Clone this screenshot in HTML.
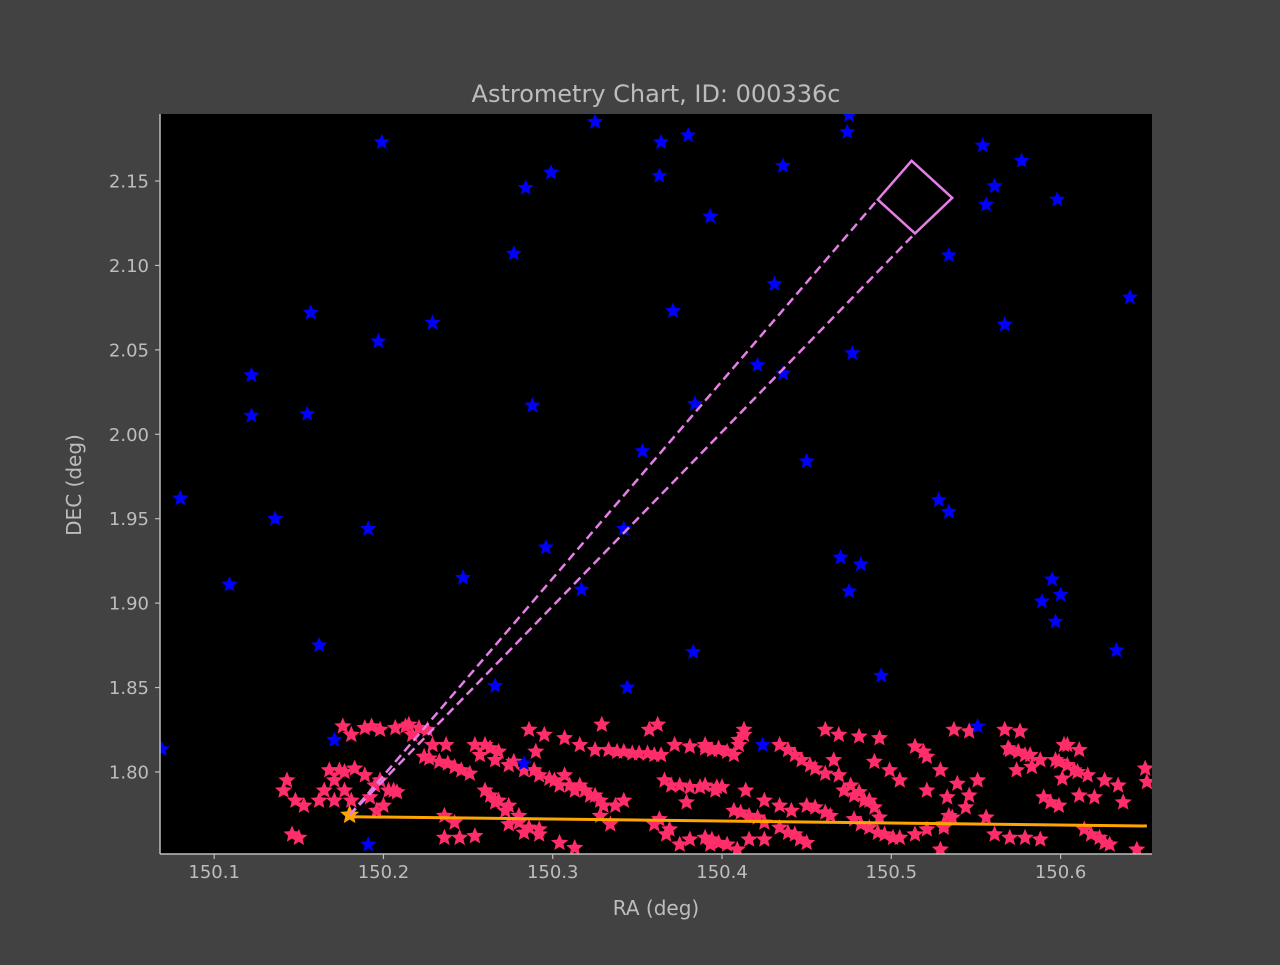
<!DOCTYPE html>
<html><head><meta charset="utf-8"><style>
body{margin:0;background:#424242;}
svg text{font-family:"DejaVu Sans","Liberation Sans",sans-serif;fill:#bdbdbd;}
</style></head><body>
<svg id="chart" width="1280" height="960" xmlns="http://www.w3.org/2000/svg">
<rect width="1280" height="960" fill="#424242"/>
<rect x="160" y="114" width="992" height="740" fill="#000"/>
<text x="656" y="102" font-size="24" text-anchor="middle">Astrometry Chart, ID: 000336c</text>
<text x="656" y="915" font-size="20" text-anchor="middle">RA (deg)</text>
<text x="81" y="485" font-size="20" text-anchor="middle" transform="rotate(-90 81 485)">DEC (deg)</text>
<g id="marks"></g>
<g id="axes"></g>
</svg>
<script>
const xTicks=[150.1,150.2,150.3,150.4,150.5,150.6];
const yTicks=[1.80,1.85,1.90,1.95,2.00,2.05,2.10,2.15];
const blueRA=[150.069,150.080,150.109,150.122,150.122,150.136,150.155,150.157,150.162,150.171,150.191,150.191,150.197,150.199,150.229,150.247,150.266,150.277,150.284,150.288,150.296,150.299,150.317,150.325,150.342,150.344,150.353,150.363,150.364,150.371,150.380,150.383,150.384,150.393,150.421,150.424,150.431,150.436,150.436,150.450,150.470,150.474,150.475,150.477,150.475,150.482,150.494,150.528,150.534,150.534,150.551,150.554,150.556,150.561,150.567,150.577,150.589,150.595,150.597,150.598,150.600,150.633,150.641,150.283];
const blueDEC=[1.8135,1.962,1.911,2.035,2.011,1.950,2.012,2.072,1.875,1.819,1.757,1.944,2.055,2.173,2.066,1.915,1.851,2.107,2.146,2.017,1.933,2.155,1.908,2.185,1.944,1.850,1.990,2.153,2.173,2.073,2.177,1.871,2.018,2.129,2.041,1.816,2.089,2.036,2.159,1.984,1.927,2.179,2.189,2.048,1.907,1.923,1.857,1.961,2.106,1.954,1.827,2.171,2.136,2.147,2.065,2.162,1.901,1.914,1.889,2.139,1.905,1.872,2.081,1.805];
const pinkRA=[.176,.181,.193,.198,.143,.141,.148,.153,.162,.165,.174,.177,.183,.189,.198,.203,.208,.171,.181,.192,.146,.150,.215,.221,.226,.217,.229,.237,.224,.233,.242,.251,.286,.295,.254,.263,.268,.257,.266,.274,.283,.292,.301,.310,.319,.263,.268,.274,.280,.236,.245,.254,.236,.274,.283,.292,.307,.316,.325,.330,.333,.342,.351,.360,.357,.362,.372,.381,.390,.398,.366,.375,.387,.396,.360,.369,.381,.393,.304,.313,.379,.329,.390,.398,.407,.413,.410,.434,.443,.452,.461,.466,.469,.472,.478,.484,.490,.461,.469,.481,.493,.490,.499,.505,.514,.521,.529,.537,.546,.567,.576,.570,.579,.588,.574,.583,.602,.611,.599,.608,.616,.601,.626,.634,.590,.599,.611,.620,.637,.650,.651,.521,.533,.539,.551,.546,.544,.536,.531,.556,.390,.397,.400,.414,.425,.434,.441,.450,.461,.407,.416,.425,.434,.443,.450,.416,.425,.390,.398,.409,.478,.487,.496,.505,.514,.493,.521,.529,.561,.570,.579,.588,.614,.623,.629,.645,
.207,.213,.189,.168,.171,.177,.195,.206,.196,.200,.227,.238,.246,.242,.260,.277,.289,.298,.304,.313,.322,.328,.337,.342,.260,.266,.272,.280,.286,.292,.307,.316,.325,.290,.338,.347,.356,.364,.370,.381,.328,.334,.363,.367,.375,.394,.403,.410,.413,.439,.447,.455,.476,.481,.487,.411,.421,.455,.464,.439,.446,.482,.492,.501,.394,.403,.569,.575,.582,.597,.604,.610,.604,.594,.534,.531,.618,.626,.519];
const pinkDEC=[1.827,1.822,1.827,1.825,1.795,1.789,1.783,1.780,1.783,1.789,1.801,1.800,1.802,1.798,1.795,1.789,1.788,1.783,1.783,1.785,1.763,1.761,1.828,1.826,1.825,1.822,1.816,1.816,1.809,1.806,1.803,1.799,1.825,1.822,1.816,1.814,1.812,1.810,1.807,1.804,1.801,1.798,1.795,1.792,1.789,1.786,1.783,1.780,1.774,1.761,1.761,1.762,1.774,1.769,1.764,1.763,1.798,1.792,1.786,1.780,1.813,1.812,1.811,1.810,1.825,1.828,1.816,1.815,1.814,1.814,1.795,1.792,1.791,1.789,1.769,1.766,1.760,1.757,1.758,1.755,1.782,1.828,1.816,1.813,1.810,1.822,1.819,1.816,1.810,1.804,1.799,1.807,1.798,1.789,1.786,1.783,1.779,1.825,1.822,1.821,1.820,1.806,1.801,1.795,1.815,1.809,1.801,1.825,1.824,1.825,1.824,1.813,1.810,1.807,1.801,1.803,1.816,1.813,1.806,1.801,1.798,1.796,1.795,1.792,1.785,1.780,1.786,1.785,1.782,1.802,1.794,1.789,1.785,1.793,1.795,1.786,1.779,1.773,1.769,1.773,1.792,1.791,1.791,1.789,1.783,1.780,1.777,1.780,1.776,1.777,1.774,1.770,1.767,1.763,1.758,1.760,1.760,1.761,1.758,1.754,1.772,1.767,1.763,1.761,1.763,1.773,1.766,1.754,1.763,1.761,1.761,1.760,1.766,1.761,1.757,1.754,
1.826,1.827,1.826,1.801,1.795,1.789,1.792,1.789,1.777,1.780,1.808,1.805,1.801,1.770,1.816,1.806,1.801,1.796,1.792,1.789,1.786,1.783,1.780,1.783,1.789,1.782,1.777,1.770,1.767,1.766,1.820,1.816,1.813,1.812,1.812,1.811,1.811,1.810,1.792,1.791,1.774,1.769,1.772,1.763,1.757,1.813,1.812,1.816,1.825,1.813,1.807,1.802,1.792,1.788,1.783,1.776,1.773,1.779,1.774,1.764,1.760,1.769,1.764,1.761,1.760,1.757,1.814,1.812,1.810,1.807,1.804,1.800,1.816,1.782,1.774,1.767,1.763,1.758,1.812];
const trackRA=[150.180,150.651];
const trackDEC=[1.7735,1.768];
const boxRA=[150.512,150.536,150.514,150.492];
const boxDEC=[2.162,2.140,2.119,2.139];
const tipRA=150.180, tipDEC=1.7745;

const X0=150.068,X1=150.654,Y0=1.7514,Y1=2.1897,PL=160,PR=1152,PT=114,PB=854;
const sx=v=>PL+(v-X0)/(X1-X0)*(PR-PL);
const sy=v=>PB-(v-Y0)/(Y1-Y0)*(PB-PT);
const NS='http://www.w3.org/2000/svg';
const marks=document.getElementById('marks');
const axes=document.getElementById('axes');
function mk(tag,attrs,parent){const e=document.createElementNS(NS,tag);for(const k in attrs)e.setAttribute(k,attrs[k]);parent.appendChild(e);return e;}
function starPts(cx,cy,R){const r=R*0.45;let p=[];for(let i=0;i<10;i++){const a=-Math.PI/2+i*Math.PI/5;const rr=i%2?r:R;p.push((cx+rr*Math.cos(a)).toFixed(1)+','+(cy+rr*Math.sin(a)).toFixed(1));}return p.join(' ');}
const clip=mk('clipPath',{id:'pc'},marks);mk('rect',{x:PL,y:PT,width:PR-PL,height:PB-PT},clip);
const g=mk('g',{'clip-path':'url(#pc)'},marks);
for(let i=0;i<pinkRA.length;i++){
  const s=mk('polygon',{points:starPts(sx(150+pinkRA[i]),sy(pinkDEC[i]),9),fill:'#ff2e6a'},g);
  
  
}
for(let i=0;i<blueRA.length;i++){
  const s=mk('polygon',{points:starPts(sx(blueRA[i]),sy(blueDEC[i]),8.5),fill:'#0000ff'},g);
  
  
}
const tr=mk('line',{x1:sx(trackRA[0]),y1:sy(trackDEC[0]),x2:sx(trackRA[1]),y2:sy(trackDEC[1]),stroke:'#ffa500','stroke-width':3},g);


const os=mk('polygon',{points:starPts(sx(tipRA),sy(tipDEC),10),fill:'#ffa500'},g);


[3,2].forEach(k=>{
  const l=mk('line',{x1:sx(tipRA),y1:sy(tipDEC),x2:sx(boxRA[k]),y2:sy(boxDEC[k]),stroke:'#e67ee6','stroke-width':2.5,'stroke-dasharray':'9,5'},g);
  
  
});
const bx=mk('polygon',{points:boxRA.map((r,i)=>sx(r)+','+sy(boxDEC[i])).join(' '),fill:'none',stroke:'#e67ee6','stroke-width':2.5},g);


const ls=mk('line',{x1:PL,y1:PT,x2:PL,y2:PB,stroke:'#bdbdbd','stroke-width':1.5},axes);


const bs=mk('line',{x1:PL,y1:PB,x2:PR,y2:PB,stroke:'#bdbdbd','stroke-width':1.5},axes);


xTicks.forEach(v=>{const x=sx(v);
  mk('line',{x1:x,y1:PB,x2:x,y2:PB+5,stroke:'#bdbdbd','stroke-width':1.2},axes);
  const t=mk('text',{x:x,y:PB+24,'font-size':18,'text-anchor':'middle'},axes);t.textContent=v.toFixed(1);
  
  
});
yTicks.forEach(v=>{const y=sy(v);
  mk('line',{x1:PL-5,y1:y,x2:PL,y2:y,stroke:'#bdbdbd','stroke-width':1.2},axes);
  const t=mk('text',{x:PL-11,y:y+6.5,'font-size':18,'text-anchor':'end'},axes);t.textContent=v.toFixed(2);
  
  
});
</script>
</body></html>
